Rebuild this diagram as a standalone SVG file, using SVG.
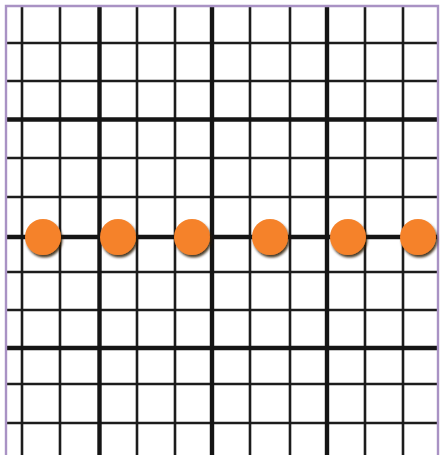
<svg xmlns="http://www.w3.org/2000/svg" width="441" height="455" viewBox="0 0 441 455">
  <defs>
    <style>
      .thin { stroke: #1c1c1c; stroke-width: 2.6; fill: none; }
      .thick { stroke: #151515; stroke-width: 4.4; fill: none; }
      .border { stroke: #a992c4; stroke-width: 2.4; fill: none; }
      .dot { fill: #f5822a; filter: url(#shadow); }
    </style>
    <filter id="shadow" x="-30%" y="-30%" width="170%" height="170%">
      <feDropShadow dx="1.5" dy="2.5" stdDeviation="1.3" flood-color="#2a1200" flood-opacity="0.85"/>
    </filter>
  </defs>
  <rect x="0" y="0" width="441" height="455" fill="#ffffff"/>
  <g id="grid">
    <g id="vertical-thin">
      <line class="thin" x1="22" y1="6" x2="22" y2="455"/>
      <line class="thin" x1="60" y1="6" x2="60" y2="455"/>
      <line class="thin" x1="137" y1="6" x2="137" y2="455"/>
      <line class="thin" x1="175" y1="6" x2="175" y2="455"/>
      <line class="thin" x1="250" y1="6" x2="250" y2="455"/>
      <line class="thin" x1="290" y1="6" x2="290" y2="455"/>
      <line class="thin" x1="365" y1="6" x2="365" y2="455"/>
      <line class="thin" x1="403" y1="6" x2="403" y2="455"/>
    </g>
    <g id="horizontal-thin">
      <line class="thin" x1="6" y1="43" x2="438" y2="43"/>
      <line class="thin" x1="6" y1="81" x2="438" y2="81"/>
      <line class="thin" x1="6" y1="158" x2="438" y2="158"/>
      <line class="thin" x1="6" y1="197" x2="438" y2="197"/>
      <line class="thin" x1="6" y1="272" x2="438" y2="272"/>
      <line class="thin" x1="6" y1="310" x2="438" y2="310"/>
      <line class="thin" x1="6" y1="384" x2="438" y2="384"/>
      <line class="thin" x1="6" y1="423" x2="438" y2="423"/>
    </g>
    <g id="vertical-thick">
      <line class="thick" x1="99.5" y1="6" x2="99.5" y2="455"/>
      <line class="thick" x1="212" y1="6" x2="212" y2="455"/>
      <line class="thick" x1="327" y1="6" x2="327" y2="455"/>
    </g>
    <g id="horizontal-thick">
      <line class="thick" x1="6" y1="119.5" x2="438" y2="119.5"/>
      <line class="thick" x1="6" y1="237" x2="438" y2="237"/>
      <line class="thick" x1="6" y1="348" x2="438" y2="348"/>
    </g>
  </g>
  <g id="frame">
    <polyline class="border" points="6,455 6,6 438,6 438,455"/>
  </g>
  <g id="dots">
    <circle id="dot1" class="dot" cx="43" cy="237" r="18"/>
    <circle id="dot2" class="dot" cx="118" cy="237" r="18"/>
    <circle id="dot3" class="dot" cx="192" cy="237" r="18"/>
    <circle id="dot4" class="dot" cx="270" cy="237" r="18"/>
    <circle id="dot5" class="dot" cx="348" cy="237" r="18"/>
    <circle id="dot6" class="dot" cx="418" cy="237" r="18"/>
  </g>
</svg>
